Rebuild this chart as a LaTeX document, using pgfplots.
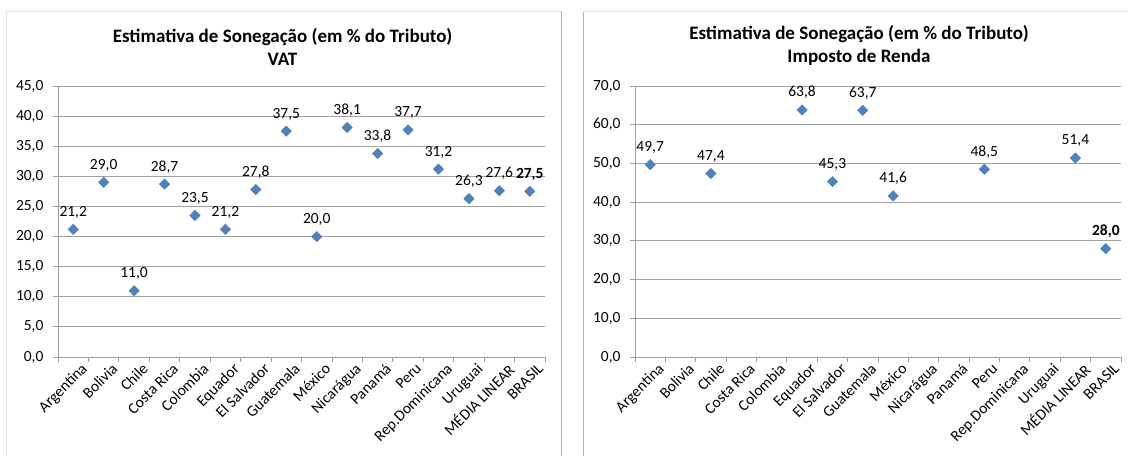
\documentclass[border=0pt]{standalone}
\usepackage{pgfplots}
\pgfplotsset{compat=1.18}
\usepackage{fontspec}
\setmainfont{Carlito}

\definecolor{mk}{HTML}{4F81BD}
\definecolor{grd}{HTML}{A0A0A0}
\definecolor{frm}{HTML}{B4B4B4}

\newcommand\lbl{\fontsize{15.5}{18}\selectfont}

\pgfkeys{/pgf/number format/.cd, fixed, fixed zerofill, precision=1, use comma, assume math mode=true}

\pgfplotsset{
  sonega/.style={
    scale only axis, width=487pt, height=271pt,
    anchor=south west,
    xmin=-0.5, xmax=15.5, ymin=0,
    axis lines*=left,
    axis line style={grd, line width=0.8pt},
    ymajorgrids, grid style={grd, line width=0.8pt},
    xtick={0,...,15},
    xticklabels={Argentina, Bolivia, Chile, Costa Rica, Colombia, Equador, El Salvador, Guatemala, México, Nicarágua, Panamá, Peru, Rep.Dominicana, Uruguai, MÉDIA LINEAR, BRASIL},
    major x tick style={draw=none},
    minor xtick={-0.5,0.5,...,15.5},
    minor x tick style={grd, line width=0.8pt},
    y tick style={grd, line width=0.8pt},
    major tick length=5pt, minor tick length=5pt,
    tick align=outside,
    x tick label style={rotate=45, anchor=north east, font=\lbl, inner sep=1pt, xshift=6pt, yshift=-4pt},
    y tick label style={font=\lbl, black, xshift=-6pt},
    title style={align=center, font=\bfseries\fontsize{19}{23}\selectfont, xshift=-19pt, yshift=11pt},
    nodes near coords,
    every node near coord/.append style={font=\lbl, black, yshift=7.5pt},
    clip=false,
  },
  pts/.style={only marks, mark=square*, mark size=3.7pt, mark options={rotate=45, fill=mk, draw=mk}},
}

\begin{document}
\begin{tikzpicture}
\path[use as bounding box] (0,0) rectangle (1128pt,456pt);
\fill[white] (0,0) rectangle (1128pt,456pt);
% chart frames
\draw[frm!40, line width=0.8pt] (6pt,0) -- (6pt,445pt) -- (561pt,445pt);
\draw[frm, line width=1pt] (561pt,0) -- (561pt,445pt);
\draw[frm, line width=1pt] (583pt,0) -- (583pt,445pt);
\draw[frm!40, line width=0.8pt] (583pt,445pt) -- (1128pt,445pt);

\begin{axis}[sonega, at={(58pt,99pt)},
  ymax=45, ytick={0,5,...,45},
  title={Estimativa de Sonegação (em \% do Tributo)\\VAT}]
\addplot[pts] coordinates {
  (0,21.2) (1,29.0) (2,11.0) (3,28.7) (4,23.5) (5,21.2) (6,27.8) (7,37.5)
  (8,20.0) (9,38.1) (10,33.8) (11,37.7) (12,31.2) (13,26.3) (14,27.6)};
\addplot[pts, nodes near coords style={font=\bfseries\lbl}] coordinates {(15,27.5)};
\end{axis}

\begin{axis}[sonega, at={(635pt,99pt)}, width=486pt,
  ymax=70, ytick={0,10,...,70},
  title={Estimativa de Sonegação (em \% do Tributo)\\Imposto de Renda}]
\addplot[pts] coordinates {
  (0,49.7) (2,47.4) (5,63.8) (6,45.3) (7,63.7) (8,41.6) (11,48.5) (14,51.4)};
\addplot[pts, nodes near coords style={font=\bfseries\lbl}] coordinates {(15,28.0)};
\end{axis}
\end{tikzpicture}
\end{document}
